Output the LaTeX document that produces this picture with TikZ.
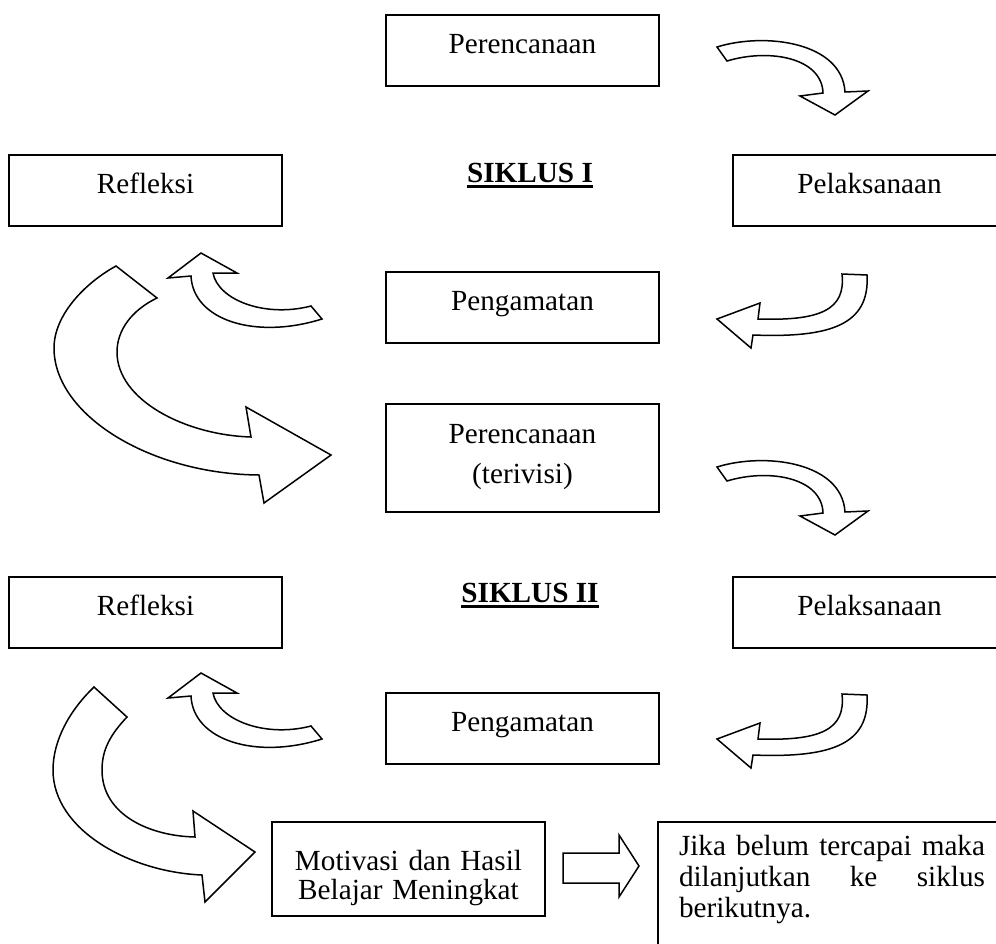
\documentclass[tikz,border=0pt]{standalone}
\usepackage{fontspec}
\setmainfont{Liberation Serif}
\usetikzlibrary{positioning}

\begin{document}
\begin{tikzpicture}[
        x=1pt, y=-1pt,
        every node/.style={font=\fontsize{29.2}{31}\selectfont},
        box/.style={draw, line width=2.2pt, outer sep=0pt, inner xsep=0pt, inner ysep=10pt, text width=273pt, align=center, text height=28pt, text depth=23pt},
        note/.style={draw, line width=2.2pt, outer sep=0pt, inner xsep=21pt, inner ysep=13pt, text width=306pt, align=left, text depth=100pt},
        siklus/.style={font=\fontsize{29.2}{31}\selectfont\bfseries, inner sep=0pt, anchor=base},
        uline/.style={line width=2.4pt},
        bigarrow/.style={draw, line width=1.5pt, fill=white, line join=miter}
    ]
    \path[use as bounding box, clip] (0,0) rectangle (996,943);

    \node[box, anchor=north west] (per1) at (386,15) {Perencanaan};
    \node[box, anchor=north west] (ref1) at (9,155) {Refleksi};
    \node[box, anchor=north west] (pel1) at (733,155) {Pelaksanaan};
    \node[box, below=186pt of per1] (pen1) {Pengamatan};
    \node[box, below=61pt of pen1, text height=29pt, text depth=59pt] (per2) {Perencanaan\\[9pt](terivisi)};
    \node[box, below=351pt of ref1] (ref2) {Refleksi};
    \node[box, below=351pt of pel1] (pel2) {Pelaksanaan};
    \node[box, below=181pt of per2] (pen2) {Pengamatan};
    \node[box, anchor=north west, text height=38pt, text depth=36pt] (mot) at (272,822) {Motivasi dan Hasil\\[-2pt]Belajar Meningkat};
    \node[note, anchor=north west] (jika) at (658,822) {\makebox[306pt][s]{Jika\hfill belum\hfill tercapai\hfill maka}\\\makebox[306pt][s]{dilanjutkan\hfill ke\hfill siklus}\\berikutnya.};

    \node[siklus] (sik1) at (530,182) {SIKLUS I};
    \node[siklus] (sik2) at (530,602) {SIKLUS II};
    \draw[uline] ([yshift=-4.5pt]sik1.base west) -- ([yshift=-4.5pt]sik1.base east);
    \draw[uline] ([yshift=-4.5pt]sik2.base west) -- ([yshift=-4.5pt]sik2.base east);

    \draw[bigarrow] (717,47) .. controls (765,32) and (842,42) .. (845,92) -- (868,91) -- (835,115) -- (800,96) -- (823,93) .. controls (822,58) and (770,48) .. (727,61) -- cycle;
    \draw[bigarrow] (867,275) .. controls (870,325) and (830,338) .. (753,335) -- (751,348) -- (717,319) -- (760,303) -- (758,319) .. controls (820,321) and (846,310) .. (842,274) -- cycle;
    \draw[bigarrow] (191,276) .. controls (193,320) and (255,340) .. (322,319) -- (311,306) .. controls (265,318) and (218,300) .. (213,273) -- (237,273) -- (201,253) -- (168,278) -- cycle;
    \draw[bigarrow] (116,266) .. controls (85,283) and (54,315) .. (54,348) .. controls (54,415) and (150,474) .. (259,475) -- (264,503) -- (331,455) -- (246,407) -- (251,437) .. controls (185,435) and (117,400) .. (117,352) .. controls (117,330) and (132,310) .. (157,298) -- cycle;

    \draw[bigarrow] (717,467) .. controls (765,452) and (842,462) .. (845,512) -- (868,511) -- (835,535) -- (800,516) -- (823,513) .. controls (822,478) and (770,468) .. (727,481) -- cycle;
    \draw[bigarrow] (867,695) .. controls (870,745) and (830,758) .. (753,755) -- (751,768) -- (717,739) -- (760,723) -- (758,739) .. controls (820,741) and (846,730) .. (842,694) -- cycle;
    \draw[bigarrow] (191,696) .. controls (193,740) and (255,760) .. (322,739) -- (311,726) .. controls (265,738) and (218,720) .. (213,693) -- (237,693) -- (201,673) -- (168,698) -- cycle;
    \draw[bigarrow] (94,687) .. controls (70,710) and (53,740) .. (53,770) .. controls (53,830) and (130,872) .. (202,875) -- (205,902) -- (255,852) -- (193,811) -- (195,837) .. controls (150,836) and (102,815) .. (102,770) .. controls (102,750) and (110,735) .. (127,717) -- cycle;

    \draw[bigarrow] (563,853) -- (619,853) -- (619,835) -- (639,866) -- (619,897) -- (619,883) -- (563,883) -- cycle;
\end{tikzpicture}
\end{document}
